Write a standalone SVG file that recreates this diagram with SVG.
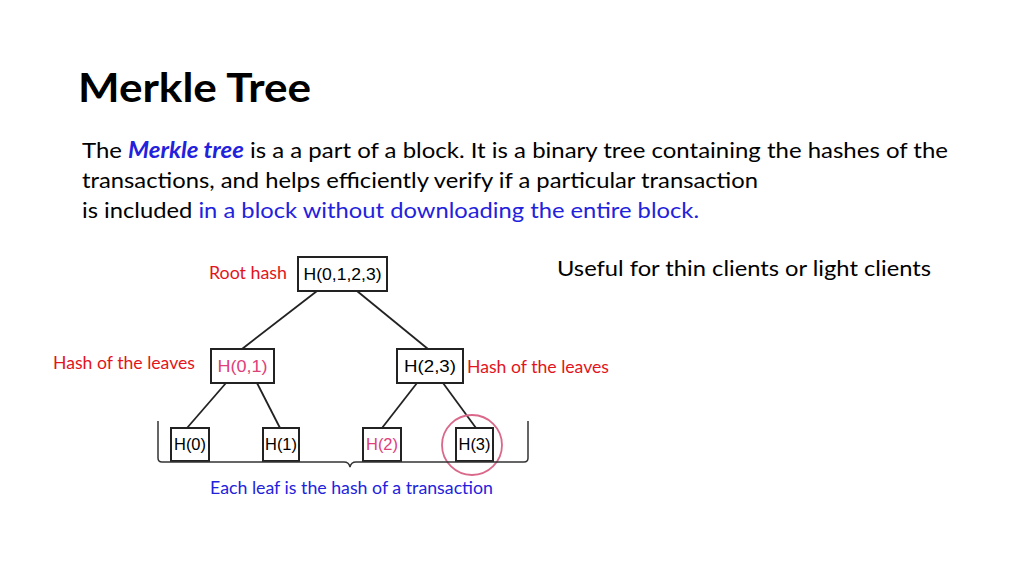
<svg xmlns="http://www.w3.org/2000/svg" width="1024" height="575" viewBox="0 0 1024 575">
<style>
.t{font-family:Lato,"Open Sans",sans-serif}
.n{font-family:"Liberation Sans",Arial,sans-serif;font-size:17px}
.box{fill:#fff;stroke:#222;stroke-width:2}
.red{fill:#e3141c;font-size:17px}
.blue{fill:#2222dd}
.pink{fill:#e0407a}
</style>
<rect width="1024" height="575" fill="#fff"/>
<text class="t" x="78" y="102" font-size="41" font-weight="bold" fill="#000" textLength="233" lengthAdjust="spacingAndGlyphs">Merkle Tree</text>
<text class="t" x="82" y="158" font-size="22" fill="#000" textLength="866" lengthAdjust="spacingAndGlyphs">The <tspan class="blue" font-weight="bold" font-style="italic">Merkle tree</tspan> is a a part of a block. It is a binary tree containing the hashes of the</text>
<text class="t" x="82" y="188" font-size="22" fill="#000" textLength="676" lengthAdjust="spacingAndGlyphs">transactions, and helps efficiently verify if a particular transaction</text>
<text class="t" x="82" y="218" font-size="22" fill="#000" textLength="617" lengthAdjust="spacingAndGlyphs">is included <tspan class="blue">in a block without downloading the entire block.</tspan></text>
<text class="t" x="557" y="276" font-size="22" fill="#000" textLength="374" lengthAdjust="spacingAndGlyphs">Useful for thin clients or light clients</text>
<g id="connectors" stroke="#222" stroke-width="1.8" fill="none">
<line x1="317" y1="291" x2="242" y2="349"/>
<line x1="357" y1="291" x2="428" y2="349"/>
<line x1="226" y1="383" x2="187" y2="428"/>
<line x1="257" y1="383" x2="280" y2="428"/>
<line x1="417" y1="383" x2="382" y2="428"/>
<line x1="443" y1="383" x2="476" y2="428"/>
</g>
<g id="root"><rect class="box" x="298" y="257" width="89" height="34"/><text class="n" x="342.5" y="280" text-anchor="middle" textLength="78" lengthAdjust="spacingAndGlyphs">H(0,1,2,3)</text></g>
<g id="h01"><rect class="box" x="211" y="349" width="63" height="34"/><text class="n pink" x="242.5" y="372" text-anchor="middle" textLength="50" lengthAdjust="spacingAndGlyphs">H(0,1)</text></g>
<g id="h23"><rect class="box" x="397" y="349" width="66" height="34"/><text class="n" x="430" y="372" text-anchor="middle" textLength="52" lengthAdjust="spacingAndGlyphs">H(2,3)</text></g>
<g id="h0"><rect class="box" x="171" y="428" width="38" height="33"/><text class="n" x="190" y="450" text-anchor="middle" textLength="32" lengthAdjust="spacingAndGlyphs">H(0)</text></g>
<g id="h1"><rect class="box" x="263" y="428" width="36" height="33"/><text class="n" x="281" y="450" text-anchor="middle" textLength="32" lengthAdjust="spacingAndGlyphs">H(1)</text></g>
<g id="h2"><rect class="box" x="363" y="428" width="38" height="33"/><text class="n pink" x="382" y="450" text-anchor="middle" textLength="32" lengthAdjust="spacingAndGlyphs">H(2)</text></g>
<g id="h3"><rect class="box" x="456" y="428" width="37" height="33"/><text class="n" x="474.5" y="450" text-anchor="middle" textLength="32" lengthAdjust="spacingAndGlyphs">H(3)</text></g>
<circle cx="472" cy="445" r="30" fill="none" stroke="#d9688a" stroke-width="1.8"/>
<path d="M158 421 V458 Q158 462 162 462 H344 Q349 462 350 467 Q351 462 356 462 H524 Q528 462 528 458 V421" fill="none" stroke="#333" stroke-width="1.5"/>
<text class="t red" x="209" y="279" textLength="78" lengthAdjust="spacingAndGlyphs">Root hash</text>
<text class="t red" x="53" y="369" textLength="142" lengthAdjust="spacingAndGlyphs">Hash of the leaves</text>
<text class="t red" x="467" y="373" textLength="142" lengthAdjust="spacingAndGlyphs">Hash of the leaves</text>
<text class="t blue" x="210" y="494" font-size="17" textLength="283" lengthAdjust="spacingAndGlyphs">Each leaf is the hash of a transaction</text>
</svg>
